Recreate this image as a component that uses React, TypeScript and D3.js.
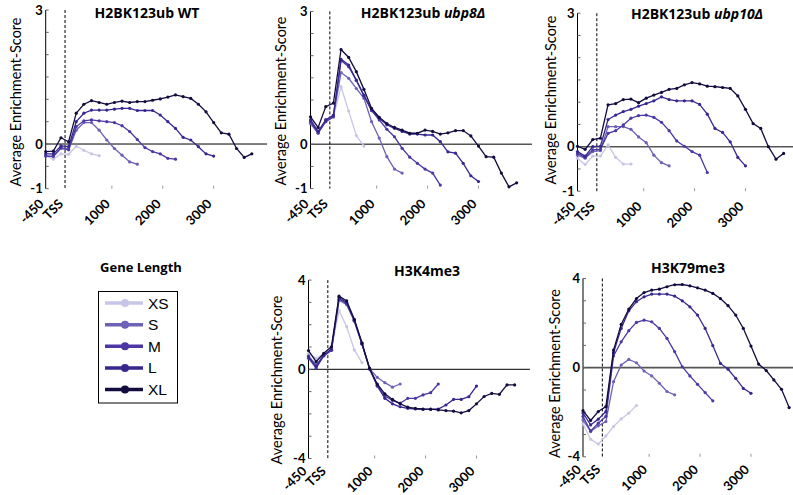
import React, { useEffect, useRef } from "react";
import * as d3 from "d3";

// gene length classes, light -> dark
const sizeNames = ["XS", "S", "M", "L", "XL"];
const sizeColors = ["#c8c6e6", "#6c62b6", "#4c37a4", "#36288f", "#120d3e"];

// bins: 3 upstream bins then 150bp bins in gene body (value at bin end)
const firstBin = -300;
const binStep = 150;
const xEnd = 4050;
const tssPos = 80;
const xTickLabels = ["-450", "TSS", "1000", "2000", "3000"];
const xTickPos = [-300, 80, 1000, 2000, 3000];
const bodyTicks = [1000, 2000, 3000];

// H2BK123ub WT
const wtXS = [-0.26, -0.34, -0.22, -0.23, -0.05, -0.14, -0.22, -0.26];
const wtS = [-0.27, -0.28, -0.1, -0.13, 0.31, 0.48, 0.48, 0.31, 0.09, -0.1, -0.25, -0.4, -0.45];
const wtM = [-0.27, -0.27, -0.08, -0.12, 0.39, 0.52, 0.54, 0.52, 0.5, 0.48, 0.41, 0.28, 0.1, -0.08, -0.17, -0.22, -0.32, -0.34];
const wtL = [-0.22, -0.22, -0.04, -0.06, 0.5, 0.69, 0.76, 0.76, 0.76, 0.78, 0.8, 0.8, 0.75, 0.75, 0.75, 0.65, 0.5, 0.35, 0.15, 0.09, -0.06, -0.22, -0.27];
const wtXL = [-0.17, -0.16, 0.14, 0.05, 0.69, 0.89, 0.97, 0.93, 0.89, 0.93, 0.96, 0.93, 0.95, 0.95, 0.98, 1.01, 1.05, 1.1, 1.06, 1.02, 0.89, 0.72, 0.48, 0.25, 0.22, -0.1, -0.3, -0.22];

// H2BK123ub ubp8Δ
const u8XS = [0.49, 0.25, 0.51, 0.61, 1.3, 0.75, 0.2, -0.04];
const u8S = [0.47, 0.25, 0.55, 0.64, 1.62, 1.49, 1.26, 1.04, 0.51, 0.14, -0.28, -0.56, -0.65];
const u8M = [0.51, 0.26, 0.51, 0.62, 1.89, 1.75, 1.44, 1.09, 0.76, 0.55, 0.34, 0.17, -0.09, -0.29, -0.43, -0.56, -0.65, -0.92];
const u8L = [0.55, 0.29, 0.55, 0.66, 1.92, 1.79, 1.45, 1.11, 0.78, 0.59, 0.44, 0.36, 0.29, 0.23, 0.23, 0.21, 0.21, 0.06, -0.17, -0.2, -0.43, -0.71, -0.84];
const u8XL = [0.62, 0.38, 0.85, 0.93, 2.14, 1.96, 1.64, 1.24, 0.81, 0.61, 0.47, 0.38, 0.32, 0.25, 0.25, 0.32, 0.29, 0.23, 0.26, 0.31, 0.31, 0.19, -0.04, -0.28, -0.29, -0.65, -0.96, -0.87];

// H2BK123ub ubp10Δ
const u10XS = [-0.26, -0.4, -0.21, -0.21, 0.04, -0.24, -0.39, -0.39];
const u10S = [-0.19, -0.26, -0.11, -0.09, 0.45, 0.45, 0.45, 0.39, 0.22, 0.09, -0.19, -0.36, -0.43];
const u10M = [-0.15, -0.24, -0.07, -0.06, 0.3, 0.36, 0.49, 0.64, 0.7, 0.71, 0.66, 0.55, 0.36, 0.13, 0.01, -0.11, -0.19, -0.58];
const u10L = [-0.11, -0.21, 0.0, 0.01, 0.61, 0.71, 0.79, 0.84, 0.91, 0.97, 1.03, 1.12, 1.06, 1.03, 1.03, 1.03, 0.95, 0.73, 0.41, 0.32, 0.11, -0.24, -0.43];
const u10XL = [0.01, -0.06, 0.16, 0.19, 0.94, 0.97, 1.06, 1.07, 0.99, 1.09, 1.16, 1.22, 1.29, 1.31, 1.39, 1.44, 1.41, 1.36, 1.35, 1.33, 1.31, 1.14, 0.84, 0.52, 0.41, 0.0, -0.28, -0.15];

// H3K4me3
const k4XS = [0.72, 0.49, 0.67, 0.94, 2.63, 1.91, 0.87, 0.3];
const k4S = [0.6, 0.2, 0.62, 0.85, 3.1, 2.9, 2.15, 1.12, 0.03, -0.36, -0.6, -0.8, -0.66];
const k4M = [0.5, 0.05, 0.6, 0.85, 3.15, 2.95, 2.2, 1.15, 0.0, -0.72, -1.2, -1.4, -1.52, -1.3, -1.3, -1.15, -1.05, -0.66];
const k4L = [0.57, 0.12, 0.64, 0.9, 3.22, 2.99, 2.2, 1.15, 0.05, -0.75, -1.3, -1.55, -1.68, -1.75, -1.78, -1.8, -1.8, -1.78, -1.6, -1.35, -1.35, -1.23, -0.75];
const k4XL = [0.84, 0.34, 0.72, 1.01, 3.28, 3.07, 2.24, 1.19, 0.04, -0.66, -1.1, -1.35, -1.55, -1.7, -1.75, -1.78, -1.79, -1.82, -1.85, -1.88, -1.95, -1.85, -1.55, -1.22, -1.08, -1.12, -0.7, -0.7];

// H3K79me3
const k79XS = [-2.52, -3.21, -3.43, -3.06, -2.64, -2.3, -2.04, -1.7];
const k79S = [-2.34, -2.87, -2.61, -2.42, -0.63, 0.12, 0.37, 0.22, -0.15, -0.37, -0.7, -1.07, -1.22];
const k79M = [-2.19, -2.84, -2.49, -2.19, 0.52, 1.16, 1.66, 2.03, 2.13, 2.06, 1.76, 1.31, 0.72, 0.04, -0.37, -0.75, -1.12, -1.49];
const k79L = [-2.04, -2.57, -2.31, -1.97, 0.67, 1.76, 2.55, 2.96, 3.18, 3.3, 3.3, 3.3, 3.21, 3.0, 2.73, 2.36, 1.76, 0.99, 0.19, -0.07, -0.48, -0.93, -1.15];
const k79XL = [-1.93, -2.37, -1.97, -1.75, 0.79, 1.94, 2.63, 3.1, 3.37, 3.48, 3.52, 3.63, 3.72, 3.73, 3.67, 3.58, 3.48, 3.33, 3.1, 2.78, 2.36, 1.76, 0.97, 0.16, -0.13, -0.55, -0.97, -1.79];

const font = "Lato, 'Open Sans', sans-serif";
const titleFont = "'Open Sans', Lato, sans-serif";
const pxPerBp = 0.0509;

type Panel = {
  title: string;
  italic?: string;
  titleX: number;
  titleY: number;
  left: number;
  top: number;
  bottom: number;
  yMin: number;
  yMax: number;
  step: number;
  yLabels: number[];
  labelX: number;
  labelY: number;
  xLabDy: number;
  zeroColor: string;
  zeroWidth: number;
  series: number[][];
};

const panels: Panel[] = [
  { title: "H2BK123ub WT", titleX: 147, titleY: 18, left: 45.7, top: 10, bottom: 188.7, yMin: -1, yMax: 3, step: 0.5, yLabels: [3, 0, -1], labelX: 20.5, labelY: 102, xLabDy: 16, zeroColor: "#000", zeroWidth: 1, series: [wtXS, wtS, wtM, wtL, wtXL] },
  { title: "H2BK123ub ", italic: "ubp8Δ", titleX: 423, titleY: 18, left: 310.5, top: 11.4, bottom: 188.6, yMin: -1, yMax: 3, step: 0.5, yLabels: [3, 0, -1], labelX: 285.5, labelY: 101, xLabDy: 16, zeroColor: "#555", zeroWidth: 1.6, series: [u8XS, u8S, u8M, u8L, u8XL] },
  { title: "H2BK123ub ", italic: "ubp10Δ", titleX: 697, titleY: 19, left: 577.5, top: 13.2, bottom: 191.2, yMin: -1, yMax: 3, step: 0.5, yLabels: [3, 0, -1], labelX: 556, labelY: 100, xLabDy: 16, zeroColor: "#555", zeroWidth: 1.6, series: [u10XS, u10S, u10M, u10L, u10XL] },
  { title: "H3K4me3", titleX: 427, titleY: 276, left: 308.5, top: 280.1, bottom: 458.5, yMin: -4, yMax: 4, step: 1, yLabels: [4, 0, -4], labelX: 282, labelY: 380, xLabDy: 13.5, zeroColor: "#000", zeroWidth: 1, series: [k4XS, k4S, k4M, k4L, k4XL] },
  { title: "H3K79me3", titleX: 688, titleY: 273, left: 583, top: 278.5, bottom: 456.8, yMin: -4, yMax: 4, step: 1, yLabels: [4, 0, -4], labelX: 560, labelY: 373.5, xLabDy: 13.5, zeroColor: "#555", zeroWidth: 1.6, series: [k79XS, k79S, k79M, k79L, k79XL] },
];

function drawPanel(svg: any, p: Panel) {
  const x = d3.scaleLinear()
    .domain([firstBin, xEnd])
    .range([p.left, p.left + (xEnd - firstBin) * pxPerBp]);
  const y = d3.scaleLinear().domain([p.yMin, p.yMax]).range([p.bottom, p.top]);
  const g = svg.append("g");

  // zero line
  g.append("line")
    .attr("x1", x(firstBin)).attr("x2", x(xEnd))
    .attr("y1", y(0)).attr("y2", y(0))
    .attr("stroke", p.zeroColor).attr("stroke-width", p.zeroWidth);

  // y axis
  g.append("line")
    .attr("x1", x(firstBin)).attr("x2", x(firstBin))
    .attr("y1", y(p.yMax)).attr("y2", y(p.yMin))
    .attr("stroke", "#000").attr("stroke-width", 1);

  g.selectAll(".ytick")
    .data(d3.range(p.yMin, p.yMax + 1e-6, p.step))
    .join("line")
    .attr("x1", x(firstBin)).attr("x2", x(firstBin) + 3)
    .attr("y1", (d: number) => y(d)).attr("y2", (d: number) => y(d))
    .attr("stroke", "#666").attr("stroke-width", 1);

  g.selectAll(".ylab")
    .data(p.yLabels)
    .join("text")
    .attr("x", x(firstBin) - 3)
    .attr("y", (d: number) => y(d))
    .attr("dy", "0.36em")
    .attr("text-anchor", "end")
    .attr("font-family", font)
    .attr("font-weight", "bold")
    .attr("font-size", 13)
    .text((d: number) => d);

  // small ticks on bottom
  g.selectAll(".xtick")
    .data(bodyTicks)
    .join("line")
    .attr("x1", (d: number) => x(d)).attr("x2", (d: number) => x(d))
    .attr("y1", y(p.yMin)).attr("y2", y(p.yMin) - 3)
    .attr("stroke", "#999");

  // TSS
  g.append("line")
    .attr("x1", x(tssPos)).attr("x2", x(tssPos))
    .attr("y1", y(p.yMax)).attr("y2", y(p.yMin))
    .attr("stroke", "#000").attr("stroke-width", 1)
    .attr("stroke-dasharray", "3,2");

  // x labels
  g.selectAll(".xlab")
    .data(xTickLabels)
    .join("text")
    .attr("text-anchor", "end")
    .attr("font-family", font)
    .attr("font-weight", "bold")
    .attr("font-size", 13)
    .attr("transform", (d: string, i: number) => `translate(${x(xTickPos[i]) - 1},${p.bottom + p.xLabDy}) rotate(-45)`)
    .text((d: string) => d);

  // series
  const line = d3.line<number>()
    .x((d, i) => x(firstBin + i * binStep))
    .y(d => y(d));

  p.series.forEach((vals, k) => {
    g.append("path")
      .attr("d", line(vals))
      .attr("fill", "none")
      .attr("stroke", sizeColors[k])
      .attr("stroke-width", 1.3);
    g.selectAll(".pt" + k)
      .data(vals)
      .join("circle")
      .attr("cx", (d: number, i: number) => x(firstBin + i * binStep))
      .attr("cy", (d: number) => y(d))
      .attr("r", 1.6)
      .attr("fill", sizeColors[k]);
  });

  // title
  const t = g.append("text")
    .attr("x", p.titleX).attr("y", p.titleY)
    .attr("text-anchor", "middle")
    .attr("font-family", titleFont)
    .attr("font-weight", "bold")
    .attr("font-size", 14)
    .text(p.title);
  if (p.italic) t.append("tspan").attr("font-style", "italic").text(p.italic);

  g.append("text")
    .attr("transform", `translate(${p.labelX},${p.labelY}) rotate(-90)`)
    .attr("text-anchor", "middle")
    .attr("font-family", font)
    .attr("font-size", 14.5)
    .text("Average Enrichment-Score");
}

function drawLegend(svg: any) {
  const g = svg.append("g");
  g.append("text")
    .attr("x", 141).attr("y", 272)
    .attr("text-anchor", "middle")
    .attr("font-family", titleFont)
    .attr("font-weight", "bold")
    .attr("font-size", 13)
    .text("Gene Length");
  g.append("rect")
    .attr("x", 98.5).attr("y", 291.5)
    .attr("width", 79).attr("height", 111.5)
    .attr("fill", "none").attr("stroke", "#000");
  const ly = d3.scalePoint<string>().domain(sizeNames).range([303, 389.5]);
  sizeNames.forEach((s, i) => {
    g.append("line")
      .attr("x1", 105).attr("x2", 143)
      .attr("y1", ly(s)).attr("y2", ly(s))
      .attr("stroke", sizeColors[i]).attr("stroke-width", 3.5);
    g.append("circle")
      .attr("cx", 125).attr("cy", ly(s)).attr("r", 4)
      .attr("fill", sizeColors[i]);
    g.append("text")
      .attr("x", 148).attr("y", ly(s))
      .attr("dy", "0.36em")
      .attr("font-family", "'Liberation Sans Narrow', 'Liberation Sans', Arial, sans-serif")
      .attr("font-size", 15.5)
      .text(s);
  });
}

export default function App() {
  const ref = useRef<SVGSVGElement>(null);

  useEffect(() => {
    const svg = d3.select(ref.current);
    svg.selectAll("*").remove();
    panels.forEach(p => drawPanel(svg, p));
    drawLegend(svg);
  }, []);

  return (
    <svg
      ref={ref}
      width={793}
      height={495}
      style={{ position: "absolute", left: 0, top: 0, background: "#fff" }}
    />
  );
}
